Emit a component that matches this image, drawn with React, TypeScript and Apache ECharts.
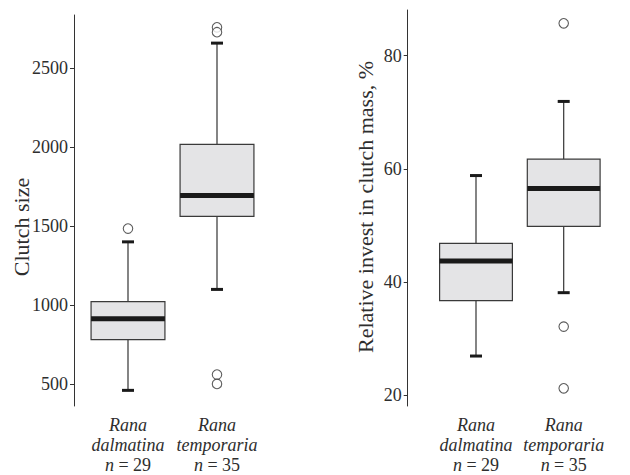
import React, { useEffect, useRef } from "react";
import * as echarts from "echarts";

const categories = ["Rana dalmatina", "Rana temporaria"];
const sampleSizes = [29, 35];

// [min, Q1, median, Q3, max]
const clutchStats = [
  [459, 780, 912, 1021, 1399],
  [1098, 1560, 1692, 2016, 2657],
];
const clutchOutliers = [
  [0, 1483],
  [1, 2757],
  [1, 2726],
  [1, 559],
  [1, 500],
];
const clutchTicks = [500, 1000, 1500, 2000, 2500];

const investStats = [
  [26.9, 36.7, 43.7, 46.8, 58.8],
  [38.1, 49.8, 56.5, 61.7, 71.9],
];
const investOutliers = [
  [1, 85.7],
  [1, 32.1],
  [1, 21.2],
];
const investTicks = [20, 40, 60, 80];

const FONT = "'Liberation Serif', 'Times New Roman', Times, serif";
const TEXT = "#2e2e2e";
const LINE = "#333333";

function renderBox(params: any, api: any) {
  const x = api.value(0);
  const lo = api.coord([x, api.value(1)]);
  const q1 = api.coord([x, api.value(2)]);
  const md = api.coord([x, api.value(3)]);
  const q3 = api.coord([x, api.value(4)]);
  const hi = api.coord([x, api.value(5)]);
  const band = api.size([1, 0])[0];
  const bw = band * 0.83;
  const cx = q1[0];
  const capW = 12;
  return {
    type: "group",
    children: [
      {
        type: "line",
        shape: { x1: cx, y1: hi[1], x2: cx, y2: q3[1] },
        style: { stroke: LINE, lineWidth: 1.2 },
      },
      {
        type: "line",
        shape: { x1: cx, y1: q1[1], x2: cx, y2: lo[1] },
        style: { stroke: LINE, lineWidth: 1.2 },
      },
      {
        type: "line",
        shape: { x1: cx - capW / 2, y1: hi[1], x2: cx + capW / 2, y2: hi[1] },
        style: { stroke: "#1a1a1a", lineWidth: 3 },
      },
      {
        type: "line",
        shape: { x1: cx - capW / 2, y1: lo[1], x2: cx + capW / 2, y2: lo[1] },
        style: { stroke: "#1a1a1a", lineWidth: 3 },
      },
      {
        type: "rect",
        shape: { x: cx - bw / 2, y: q3[1], width: bw, height: q1[1] - q3[1] },
        style: { fill: "#e4e4e6", stroke: "#3a3a3a", lineWidth: 1.2 },
      },
      {
        type: "line",
        shape: { x1: cx - bw / 2, y1: md[1], x2: cx + bw / 2, y2: md[1] },
        style: { stroke: "#1a1a1a", lineWidth: 5 },
      },
    ],
  };
}

function xLabel(value: string, index: number) {
  const parts = value.split(" ");
  return `{i|${parts[0]}}\n{i|${parts[1]}}\n{i|n}{r| = ${sampleSizes[index]}}`;
}

const richStyles = {
  i: { fontFamily: FONT, fontSize: 18, fontStyle: "italic", color: TEXT, lineHeight: 20 },
  r: { fontFamily: FONT, fontSize: 18, color: TEXT, lineHeight: 20 },
};

function makeXAxis(gridIndex: number) {
  return {
    type: "category",
    gridIndex,
    data: categories,
    axisLine: { show: false },
    axisTick: { show: false },
    splitLine: { show: false },
    axisLabel: {
      interval: 0,
      margin: 9,
      formatter: xLabel,
      rich: richStyles,
      lineHeight: 20,
    },
  };
}

function makeYAxis(gridIndex: number, min: number, max: number, ticks: number[], offset: number) {
  return {
    type: "value",
    gridIndex,
    min,
    max,
    offset,
    splitLine: { show: false },
    axisLine: { show: true, lineStyle: { color: LINE, width: 1 } },
    axisTick: { show: true, length: 4, customValues: ticks, lineStyle: { color: LINE, width: 1 } },
    axisLabel: {
      customValues: ticks,
      formatter: (v: number) => String(v),
      margin: 6,
      fontFamily: FONT,
      fontSize: 18,
      color: TEXT,
    },
  };
}

export default function App() {
  const ref = useRef<HTMLDivElement>(null);
  useEffect(() => {
    if (!ref.current) return;
    const chart = echarts.init(ref.current, null, { renderer: "svg" });
    const boxData = (stats: number[][]) => stats.map((s, i) => [i, ...s]);
    chart.setOption({
      animation: false,
      backgroundColor: "#ffffff",
      grid: [
        { left: 83.5, top: 15, width: 178, height: 394 },
        { left: 432.15, top: 10, width: 175.4, height: 399.3 },
      ],
      xAxis: [makeXAxis(0), makeXAxis(1)],
      yAxis: [
        makeYAxis(0, 360, 2835, clutchTicks, 9.5),
        makeYAxis(1, 18.07, 88.06, investTicks, 24.45),
      ],
      series: [
        {
          type: "custom",
          xAxisIndex: 0,
          yAxisIndex: 0,
          renderItem: renderBox,
          encode: { x: 0, y: [1, 2, 3, 4, 5] },
          data: boxData(clutchStats),
        },
        {
          type: "scatter",
          xAxisIndex: 0,
          yAxisIndex: 0,
          symbol: "circle",
          symbolSize: 9.5,
          itemStyle: { color: "#ffffff", borderColor: "#333333", borderWidth: 1.1 },
          data: clutchOutliers,
        },
        {
          type: "custom",
          xAxisIndex: 1,
          yAxisIndex: 1,
          renderItem: renderBox,
          encode: { x: 0, y: [1, 2, 3, 4, 5] },
          data: boxData(investStats),
        },
        {
          type: "scatter",
          xAxisIndex: 1,
          yAxisIndex: 1,
          symbol: "circle",
          symbolSize: 9.5,
          itemStyle: { color: "#ffffff", borderColor: "#333333", borderWidth: 1.1 },
          data: investOutliers,
        },
      ],
      graphic: [
        {
          type: "text",
          x: 21,
          y: 227,
          rotation: Math.PI / 2,
          style: {
            text: "Clutch size",
            font: `22px ${FONT}`,
            fill: TEXT,
            align: "center",
            verticalAlign: "middle",
          },
        },
        {
          type: "text",
          x: 365,
          y: 207,
          rotation: Math.PI / 2,
          style: {
            text: "Relative invest in clutch mass, %",
            font: `22px ${FONT}`,
            fill: TEXT,
            align: "center",
            verticalAlign: "middle",
          },
        },
      ],
    });
    return () => chart.dispose();
  }, []);
  return (
    <div
      ref={ref}
      style={{ position: "absolute", left: 0, top: 0, width: 630, height: 475 }}
    />
  );
}
